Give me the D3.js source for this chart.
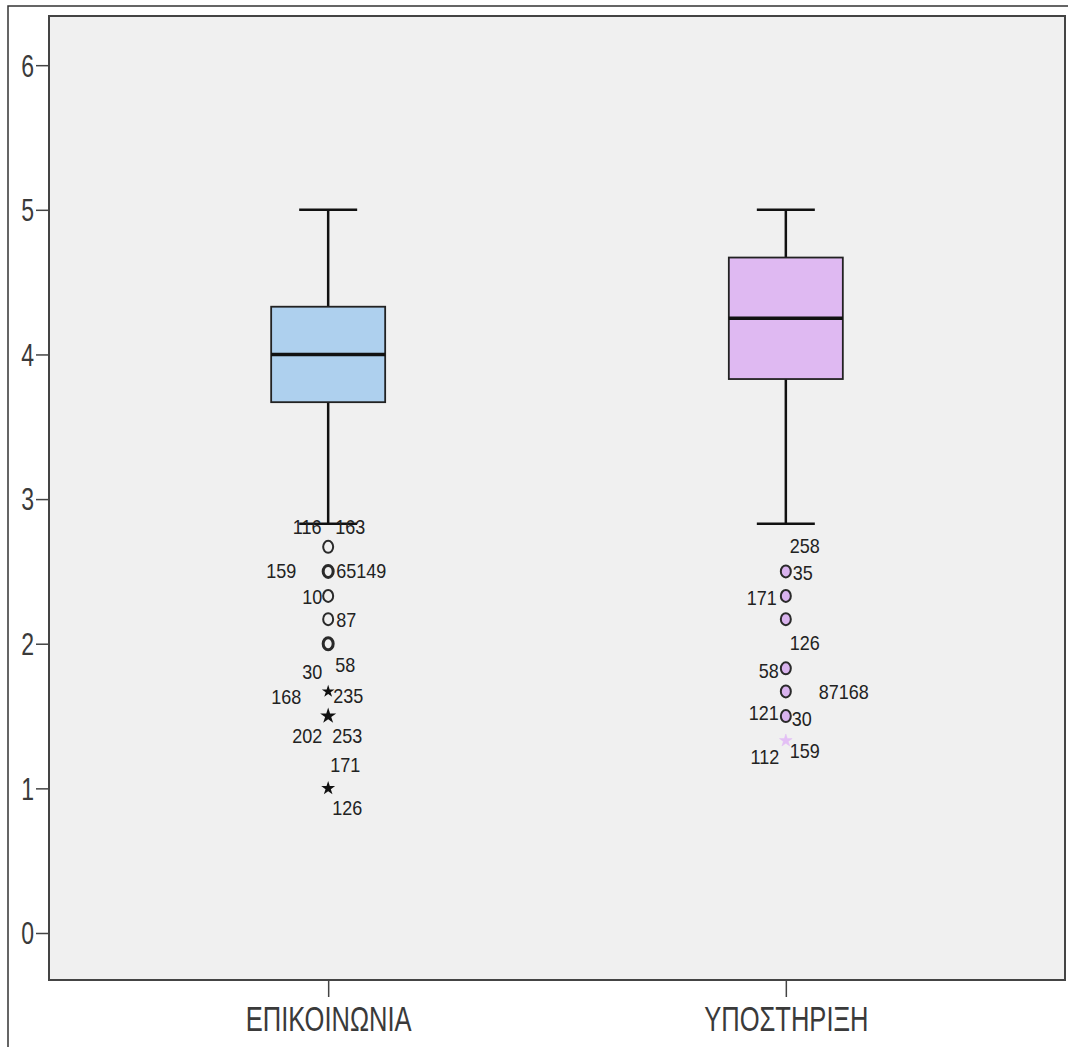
<!DOCTYPE html>
<html>
<head>
<meta charset="utf-8">
<script src="https://cdn.jsdelivr.net/npm/d3@7"></script>
<style>
  body { margin: 0; background: #fff; }
  text { font-family: "Liberation Sans", Arial, sans-serif; fill: #222; }
</style>
</head>
<body>
<svg width="1068" height="1047"></svg>
<script>
// categories + box stats
const categories = ["ΕΠΙΚΟΙΝΩΝΙΑ", "ΥΠΟΣΤΗΡΙΞΗ"]
const boxColors = ["#aed0ee", "#dfb9f2"]
const whiskLow = [2.83, 2.83]
const q1 = [3.67, 3.83]
const median = [4.0, 4.25]
const q3 = [4.33, 4.67]
const whiskHigh = [5.0, 5.0]
const yTicks = [0, 1, 2, 3, 4, 5, 6]

// outliers: value, kind (o = outlier, s = extreme), heavy = several cases on top of each other
const outliersEpik = [
  {v: 2.67, kind: "o"}, {v: 2.5, kind: "o", heavy: true}, {v: 2.33, kind: "o"},
  {v: 2.17, kind: "o"}, {v: 2.0, kind: "o", heavy: true},
  {v: 1.67, kind: "s", thin: true}, {v: 1.5, kind: "s", heavy: true}, {v: 1.0, kind: "s"}
]
const outliersYpo = [
  {v: 2.5, kind: "o"}, {v: 2.33, kind: "o"}, {v: 2.17, kind: "o"},
  {v: 1.83, kind: "o"}, {v: 1.67, kind: "o"}, {v: 1.5, kind: "o"},
  {v: 1.33, kind: "s", thin: true}
]

// case labels: [text, index of outlier they sit by]
const labelsEpik = [
  ["116", 0], ["163", 0], ["159", 1], ["65149", 1], ["10", 2], ["87", 3],
  ["30", 4], ["58", 4], ["168", 5], ["235", 5], ["202", 6], ["253", 6],
  ["171", 7], ["126", 7]
]
const labelsYpo = [
  ["258", 0], ["35", 0], ["171", 1], ["126", 2], ["58", 3], ["87168", 4],
  ["121", 5], ["30", 5], ["159", 6], ["112", 6]
]
// label offsets from the point (px) and anchor, same order as above
const offsEpik = [
  [-21, -20, "middle"], [22, -20, "middle"], [-47, 0, "middle"], [8, 0, "start"],
  [-6, 1, "end"], [8, 1, "start"], [-16, 28, "middle"], [17, 21, "middle"],
  [-42, 6, "middle"], [5, 5, "start"], [-21, 20, "middle"], [19, 20, "middle"],
  [17, -23, "middle"], [19, 20, "middle"]
]
const offsYpo = [
  [19, -25, "middle"], [7, 2, "start"], [-9, 2, "end"], [19, 24, "middle"],
  [-7, 3, "end"], [58, 1, "middle"], [-7, -3, "end"], [6, 3, "start"],
  [19, 11, "middle"], [-21, 17, "middle"]
]

const svg = d3.select("svg")
const plotL = 49, plotR = 1065, plotT = 16, plotB = 980

// outer frame (cut off on right/bottom like the screenshot)
svg.append("rect")
   .attr("x", 8).attr("y", 6).attr("width", 1100).attr("height", 1100)
   .attr("fill", "none").attr("stroke", "#333").attr("stroke-width", 1.5)

const x = d3.scalePoint()
   .domain(categories)
   .range([plotL, plotR])
   .padding(0.61)

const y = d3.scaleLinear()
   .domain([-0.325, 6.34])
   .range([plotB, plotT])

const boxW = 114, capW = 58

svg.append("rect")
   .attr("x", plotL).attr("y", plotT)
   .attr("width", plotR - plotL).attr("height", plotB - plotT)
   .attr("fill", "#f0f0f0")

// y axis
const yAxis = svg.append("g")
   .attr("transform", `translate(${plotL},0)`)
   .call(d3.axisLeft(y).tickValues(yTicks).tickSize(13).tickPadding(3).tickFormat(d3.format("d")))
yAxis.select(".domain").remove()
yAxis.selectAll("line").attr("stroke", "#444").attr("stroke-width", 1.5)
yAxis.selectAll("text")
   .attr("font-size", 32)
   .attr("dy", null)
   .attr("dominant-baseline", "central")
   .attr("x", null)
   .attr("transform", "translate(-15,0) scale(0.72,1)")
   .style("fill", "#3a3a3a")

// x axis
const xAxis = svg.append("g")
   .attr("transform", `translate(0,${plotB})`)
   .call(d3.axisBottom(x).tickSize(17).tickPadding(8))
xAxis.select(".domain").remove()
xAxis.selectAll("line").attr("stroke", "#444").attr("stroke-width", 1.5)
xAxis.selectAll("text")
   .attr("font-size", 36)
   .attr("dy", null)
   .attr("y", null)
   .attr("dominant-baseline", "central")
   .attr("transform", "translate(0,39) scale(0.71,1)")
   .style("fill", "#3a3a3a")

// boxes
const boxes = svg.append("g")
   .selectAll("g")
   .data(categories)
   .join("g")
   .attr("transform", d => `translate(${x(d)},0)`)

boxes.append("line")
   .attr("y1", (d, i) => y(whiskLow[i])).attr("y2", (d, i) => y(q1[i]))
   .attr("stroke", "#111").attr("stroke-width", 2.5)
boxes.append("line")
   .attr("y1", (d, i) => y(q3[i])).attr("y2", (d, i) => y(whiskHigh[i]))
   .attr("stroke", "#111").attr("stroke-width", 2.5)
boxes.selectAll(".cap")
   .data((d, i) => [whiskLow[i], whiskHigh[i]])
   .join("line")
   .attr("class", "cap")
   .attr("x1", -capW / 2).attr("x2", capW / 2)
   .attr("y1", v => y(v)).attr("y2", v => y(v))
   .attr("stroke", "#111").attr("stroke-width", 2.5)
boxes.append("rect")
   .attr("x", -boxW / 2)
   .attr("y", (d, i) => y(q3[i]))
   .attr("width", boxW)
   .attr("height", (d, i) => y(q1[i]) - y(q3[i]))
   .attr("fill", (d, i) => boxColors[i])
   .attr("stroke", "#222").attr("stroke-width", 1.8)
boxes.append("line")
   .attr("x1", -boxW / 2).attr("x2", boxW / 2)
   .attr("y1", (d, i) => y(median[i])).attr("y2", (d, i) => y(median[i]))
   .attr("stroke", "#111").attr("stroke-width", 3.5)

const star = d3.symbol().type(d3.symbolStar)

function drawOutliers(cat, pts, labels, offs, fill, starFill) {
  const cx = x(cat)
  const g = svg.append("g")
  g.selectAll("ellipse")
     .data(pts.filter(p => p.kind === "o"))
     .join("ellipse")
     .attr("cx", cx).attr("cy", p => y(p.v))
     .attr("rx", 5).attr("ry", 6)
     .attr("fill", fill)
     .attr("stroke", "#2a2a2a")
     .attr("stroke-width", p => p.heavy ? 3 : 2)
  g.selectAll("path")
     .data(pts.filter(p => p.kind === "s"))
     .join("path")
     .attr("transform", p => `translate(${cx},${y(p.v)})`)
     .attr("d", p => star.size(p.heavy ? 80 : (p.thin ? 50 : 60))())
     .attr("fill", p => p.thin && starFill !== "#111" ? starFill : "#111")
     .attr("stroke", p => p.thin && starFill !== "#111" ? starFill : "none")
     .attr("stroke-width", 0.5)
  g.selectAll("text")
     .data(labels)
     .join("text")
     .attr("font-size", 20)
     .attr("dominant-baseline", "central")
     .attr("text-anchor", (d, i) => offs[i][2])
     .attr("transform", (d, i) => `translate(${cx + offs[i][0]},${y(pts[d[1]].v) + offs[i][1]}) scale(0.9,1)`)
     .text(d => d[0])
}

drawOutliers(categories[0], outliersEpik, labelsEpik, offsEpik, "none", "#111")
drawOutliers(categories[1], outliersYpo, labelsYpo, offsYpo, "#d9b3ee", "#e3bff5")

// plot border on top
svg.append("rect")
   .attr("x", plotL).attr("y", plotT)
   .attr("width", plotR - plotL).attr("height", plotB - plotT)
   .attr("fill", "none").attr("stroke", "#444").attr("stroke-width", 2)
</script>
</body>
</html>
